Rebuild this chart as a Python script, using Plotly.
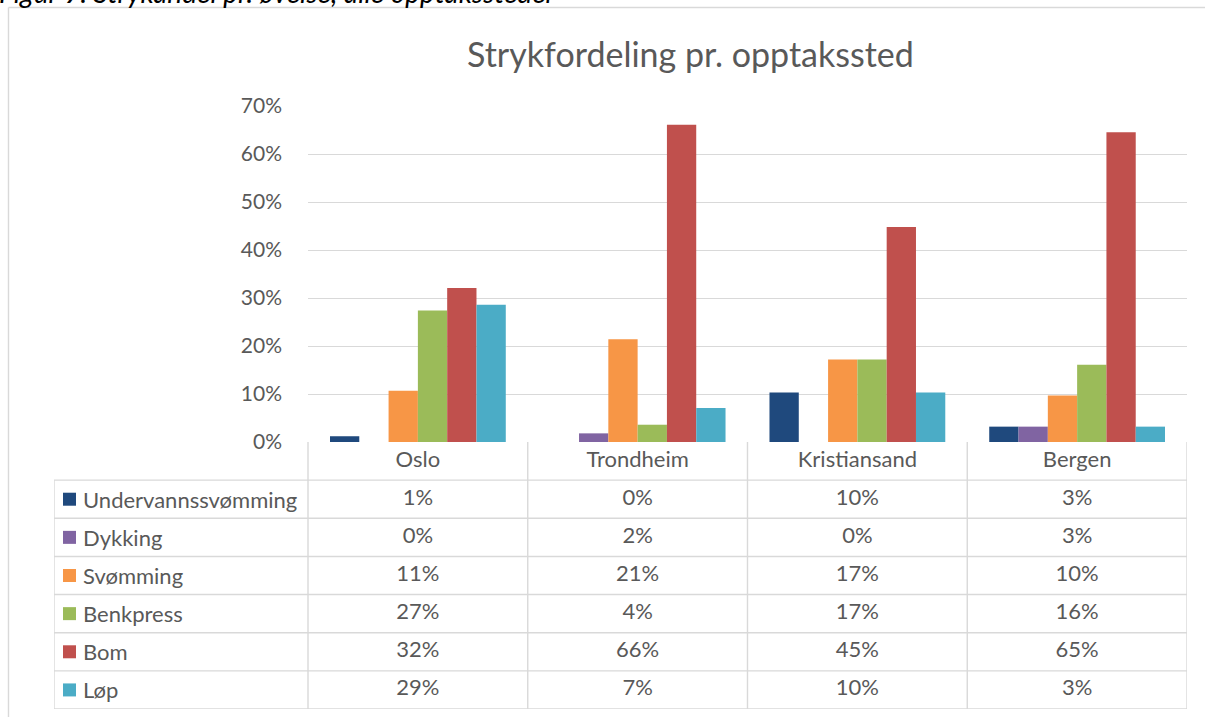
import plotly.graph_objects as go

# ---- data ----
categories = ["Oslo", "Trondheim", "Kristiansand", "Bergen"]
series_names = ["Undervannssvømming", "Dykking", "Svømming", "Benkpress", "Bom", "Løp"]
undervannssvomming = [0.012, 0.0, 0.103, 0.032]
dykking = [0.0, 0.018, 0.0, 0.032]
svomming = [0.107, 0.214, 0.172, 0.097]
benkpress = [0.274, 0.036, 0.172, 0.161]
bom = [0.321, 0.661, 0.448, 0.6452]
lop = [0.286, 0.071, 0.103, 0.032]
y_ticks = [0, 0.1, 0.2, 0.3, 0.4, 0.5, 0.6, 0.7]
y_tick_labels = ["0%", "10%", "20%", "30%", "40%", "50%", "60%", "70%"]
title_text = "Strykfordeling pr. opptakssted"
caption_text = "Figur 9: Strykandel pr. øvelse, alle opptakssteder"

series_values = [undervannssvomming, dykking, svomming, benkpress, bom, lop]
colors = ["#1F497D", "#8064A2", "#F79646", "#9BBB59", "#C0504D", "#4BACC6"]

W, H = 1205, 717
FONT = "Lato"
TXT = "#595959"
GRID = "#D9D9D9"

def px_x(p):
    return p / W

def px_y(p):
    return 1 - p / H

plot_left, plot_right = 308, 1187
plot_top, plot_bottom = 106, 442
table_left, table_bottom = 54, 709
unit = (plot_right - plot_left) / 4.0
legend_w = (plot_left - table_left) / unit
x2_left = -0.5 - legend_w
n_rows = len(series_names) + 1

fig = go.Figure()

# bars
for name, vals, col in zip(series_names, series_values, colors):
    fig.add_trace(go.Bar(
        x=categories, y=vals, name=name, marker_color=col,
        marker_line_width=0, xaxis="x", yaxis="y", showlegend=False,
        hoverinfo="skip"))

# table: header
fig.add_trace(go.Scatter(
    x=list(range(len(categories))), y=[0.5] * len(categories),
    mode="text", text=categories, textposition="middle center",
    textfont=dict(family=FONT, size=22, color=TXT),
    xaxis="x2", yaxis="y2", showlegend=False, hoverinfo="skip"))

# table: values
for r, vals in enumerate(series_values):
    fig.add_trace(go.Scatter(
        x=list(range(len(categories))), y=[r + 1.5] * len(categories),
        mode="text", text=[f"{v:.0%}" for v in vals],
        textposition="middle center",
        textfont=dict(family=FONT, size=22, color=TXT),
        xaxis="x2", yaxis="y2", showlegend=False, hoverinfo="skip"))

# legend keys
key_x = x2_left + (69.5 - table_left) / unit
fig.add_trace(go.Scatter(
    x=[key_x] * len(series_names), y=[r + 1.5 for r in range(len(series_names))],
    mode="markers", marker=dict(symbol="square", size=13, color=colors, line_width=0),
    xaxis="x2", yaxis="y2", showlegend=False, hoverinfo="skip"))

annotations = []
label_x = x2_left + (81 - table_left) / unit
for r, name in enumerate(series_names):
    annotations.append(dict(
        x=label_x, y=r + 1.5, xref="x2", yref="y2", text=name,
        showarrow=False, xanchor="left", yanchor="middle",
        font=dict(family=FONT, size=22, color=TXT)))

annotations.append(dict(
    x=px_x(690), y=px_y(53), xref="paper", yref="paper", text=title_text,
    showarrow=False, xanchor="center", yanchor="middle",
    font=dict(family=FONT, size=34, color=TXT)))

annotations.append(dict(
    x=px_x(-3), y=px_y(11), xref="paper", yref="paper", text="<i>" + caption_text + "</i>",
    showarrow=False, xanchor="left", yanchor="bottom",
    font=dict(family=FONT, size=28, color="#000000")))

shapes = []
line = dict(color=GRID, width=1.4)
for r in range(1, n_rows + 1):
    shapes.append(dict(type="line", xref="x2", yref="y2", x0=x2_left, x1=3.5,
                       y0=r, y1=r, line=line, layer="above"))
for c in range(len(categories) + 1):
    shapes.append(dict(type="line", xref="x2", yref="y2", x0=c - 0.5, x1=c - 0.5,
                       y0=0, y1=n_rows, line=line, layer="above"))
shapes.append(dict(type="line", xref="x2", yref="y2", x0=x2_left, x1=x2_left,
                   y0=1, y1=n_rows, line=line, layer="above"))
# outer frame
shapes.append(dict(type="line", xref="paper", yref="paper", x0=px_x(8.5), x1=1,
                   y0=px_y(7.5), y1=px_y(7.5), line=line))
shapes.append(dict(type="line", xref="paper", yref="paper", x0=px_x(8.5), x1=px_x(8.5),
                   y0=px_y(7.5), y1=0, line=line))

fig.update_layout(
    width=W, height=H, autosize=False,
    margin=dict(l=0, r=0, t=0, b=0, pad=0, autoexpand=False),
    paper_bgcolor="white", plot_bgcolor="white",
    barmode="group", bargap=0.2, bargroupgap=0,
    font=dict(family=FONT, color=TXT),
    xaxis=dict(domain=[px_x(plot_left), px_x(plot_right)], range=[-0.5, 3.5],
               showticklabels=False, showgrid=False, zeroline=False, showline=False,
               automargin=False, fixedrange=True),
    yaxis=dict(domain=[px_y(plot_bottom), px_y(plot_top)], range=[0, 0.7],
               tickvals=y_ticks, ticktext=y_tick_labels,
               showgrid=True, gridcolor=GRID, gridwidth=1.4, zeroline=False,
               showline=False, ticks="", ticklabelstandoff=25, automargin=False,
               tickfont=dict(family=FONT, size=21, color=TXT), fixedrange=True),
    xaxis2=dict(domain=[px_x(table_left), px_x(plot_right)], range=[x2_left, 3.5],
                anchor="y2", visible=False, automargin=False, fixedrange=True),
    yaxis2=dict(domain=[px_y(table_bottom), px_y(plot_bottom)], range=[n_rows, 0],
                anchor="x2", visible=False, automargin=False, fixedrange=True),
    annotations=annotations, shapes=shapes,
)

fig.write_html("out.html", config={"displayModeBar": False},
               post_script="document.body.style.margin='0';document.body.style.overflow='hidden';")
